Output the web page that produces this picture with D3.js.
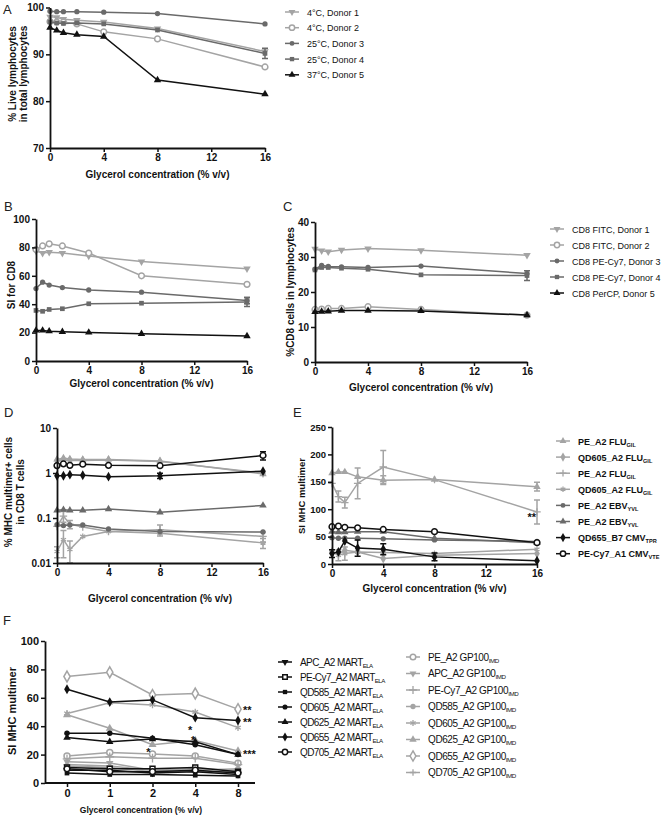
<!DOCTYPE html>
<html><head><meta charset="utf-8">
<script src="https://cdn.jsdelivr.net/npm/d3@7"></script>
<style>
body{margin:0;background:#fff;}
svg{display:block;font-family:"Liberation Sans",Arial,sans-serif;}
</style></head><body>
<svg id="chart" width="664" height="815"></svg>
<script>
// ---------- DATA ----------
const xConc = [0, 0.5, 1, 2, 4, 8, 16];
const xTicks = [0, 4, 8, 12, 16];

// Panel A: % live lymphocytes
const liveDonor1 = [98.0, 97.9, 97.5, 97.3, 96.9, 95.5, 90.6];
const liveDonor2 = [97.0, 96.9, 96.9, 96.5, 94.8, 93.3, 87.3];
const liveDonor3 = [99.2, 99.1, 99.1, 99.1, 99.0, 98.7, 96.5];
const liveDonor4 = [96.9, 96.7, 96.6, 96.7, 96.5, 95.2, 90.2];
const liveDonor5 = [95.7, 95.1, 94.6, 94.2, 93.8, 84.5, 81.5];
const liveErr4 = [0, 0, 0, 0, 0, 0, 1.1];
const liveErr5 = [0, 0, 0.8, 1.6, 0, 0.6, 0];
const legendA = ["4°C, Donor 1", "4°C, Donor 2", "25°C, Donor 3", "25°C, Donor 4", "37°C, Donor 5"];
const yTicksA = [70, 80, 90, 100];

// Panel B: SI for CD8
const siDonor1 = [77.5, 76.0, 76.6, 76.0, 74.0, 70.0, 65.0];
const siDonor2 = [78.5, 81.0, 82.5, 81.0, 76.0, 60.0, 54.0];
const siDonor3 = [51.0, 55.5, 53.5, 51.7, 50.0, 48.5, 42.6];
const siDonor4 = [35.6, 35.0, 36.3, 36.8, 40.3, 40.7, 41.5];
const siDonor5 = [21.5, 21.5, 21.0, 20.6, 20.1, 19.2, 17.6];
const siErr3 = [0, 0, 0, 0, 0, 0, 2.2];
const siErr4 = [0, 0, 0, 0, 0, 0, 3.2];
const yTicksB = [0, 20, 40, 60, 80, 100];

// Panel C: %CD8 cells in lymphocytes
const cd8Donor1 = [32.3, 31.8, 31.5, 32.0, 32.4, 31.9, 30.5];
const cd8Donor2 = [15.0, 15.1, 15.3, 15.3, 15.8, 15.0, 13.4];
const cd8Donor3 = [26.5, 27.6, 27.3, 27.2, 27.0, 27.4, 25.3];
const cd8Donor4 = [26.3, 27.0, 27.0, 26.8, 26.5, 24.9, 24.7];
const cd8Donor5 = [14.3, 14.4, 14.5, 14.7, 14.7, 14.6, 13.4];
const cd8Err4 = [0, 0, 0, 0, 0, 0, 1.4];
const legendC = ["CD8 FITC, Donor 1", "CD8 FITC, Donor 2", "CD8 PE-Cy7, Donor 3", "CD8 PE-Cy7, Donor 4", "CD8 PerCP, Donor 5"];
const yTicksC = [0, 10, 20, 30, 40];

// Panel D: % MHC multimer+ cells in CD8 T cells (log)
const dPeFlu     = [2.0, 2.15, 2.05, 2.0, 2.0, 1.85, 0.95];
const dQd605Flu  = [1.9, 1.95, 1.9, 1.9, 1.95, 1.8, 1.0];
const dPeFlu2    = [0.065, 0.11, 0.073, 0.063, 0.05, 0.055, 0.039];
const dQd605Flu2 = [0.018, 0.033, 0.02, 0.039, 0.05, 0.046, 0.028];
const dPeEbv     = [0.071, 0.068, 0.070, 0.070, 0.057, 0.050, 0.049];
const dPeEbv2    = [0.148, 0.153, 0.148, 0.148, 0.158, 0.134, 0.19];
const dQd655Cmv  = [0.87, 0.87, 0.92, 0.89, 0.83, 0.87, 1.1];
const dPeCy7Cmv  = [1.46, 1.6, 1.48, 1.57, 1.48, 1.45, 2.45];
const dErrFlu2   = [0, 0.03, 0.015, 0, 0, 0.015, 0.01];
const dErrQdFlu2 = [0.005, 0.02, 0.011, 0, 0, 0, 0.007];
const dErrQd655  = [0, 0, 0, 0, 0, 0.12, 0];
const dErrPeCy7  = [0, 0, 0, 0, 0, 0, 0.5];
const yTicksD = [0.01, 0.1, 1, 10];

// Panel E: SI MHC multimer
const ePeFlu     = [166, 168, 168, 159, 153, 154, 141];
const eQd605Flu  = [22, 19, 25, 22, 10, 16, 19];
const ePeFlu2    = [147, 123, 112, 147, 177, 154, 95];
const eQd605Flu2 = [22, 16, 19, 22, 21, 19, 27];
const ePeEbv     = [48, 47, 47, 47, 46, 44, 41];
const ePeEbv2    = [59, 58, 58, 59, 59, 47, 39];
const eQd655Cmv  = [19, 22, 42, 29, 27, 13, 6];
const ePeCy7Cmv  = [68, 69, 67, 66, 63, 59, 39];
const eErrFlu    = [0, 0, 0, 0, 8, 0, 8];
const eErrFlu2   = [0, 10, 10, 28, 30, 0, 22];
const eErrQdFlu2 = [0, 10, 12, 0, 0, 0, 0];
const eErrQd655  = [7, 0, 0, 15, 10, 7, 0];
const yTicksE = [0, 50, 100, 150, 200, 250];
const legendE = [
  ["PE_A2 FLU", "GIL"], ["QD605_A2 FLU", "GIL"], ["PE_A2 FLU", "GIL"], ["QD605_A2 FLU", "GIL"],
  ["PE_A2 EBV", "YVL"], ["PE_A2 EBV", "YVL"], ["QD655_B7 CMV", "TPR"], ["PE-Cy7_A1 CMV", "VTE"]
];

// Panel F: SI MHC multimer, categorical concentrations
const fConc = ["0", "1", "2", "4", "8"];
const fApcMart   = [9, 9, 7, 8, 6];
const fPeCy7Mart = [11, 10, 10, 11, 8];
const fQd585Mart = [7, 6, 6, 5.5, 5];
const fQd605Mart = [35, 35, 31.5, 27, 20];
const fQd625Mart = [32, 29, 31, 29, 20];
const fQd655Mart = [66, 57, 58.5, 46, 44];
const fQd705Mart = [10, 8, 8, 9, 7];
const fPeGp      = [19, 21.5, 20.5, 19, 14];
const fApcGp     = [15, 14, 9, 10, 9];
const fPeCy7Gp   = [17, 18.5, 17.5, 17.5, 13];
const fQd585Gp   = [12, 11, 8, 9, 10];
const fQd605Gp   = [49, 56.5, 55, 50, 39];
const fQd625Gp   = [48, 38.5, 27, 30, 22.6];
const fQd655Gp   = [75, 78, 62, 63, 52];
const fQd705Gp   = [13, 12, 9, 8, 8];
const yTicksF = [0, 20, 40, 60, 80, 100];
const legendFMart = ["APC_A2 MART", "PE-Cy7_A2 MART", "QD585_A2 MART", "QD605_A2 MART", "QD625_A2 MART", "QD655_A2 MART", "QD705_A2 MART"];
const legendFGp = ["PE_A2 GP100", "APC_A2 GP100", "PE-Cy7_A2 GP100", "QD585_A2 GP100", "QD605_A2 GP100", "QD625_A2 GP100", "QD655_A2 GP100", "QD705_A2 GP100"];
const xTitle = "Glycerol concentration (% v/v)";

// ---------- DRAWING ----------
const LIGHT = "#a4a4a4", MID = "#6a6a6a", BLACK = "#111111";
const svg = d3.select("#chart");
const FONT = '"Liberation Sans", Arial, sans-serif';

const symTypes = {tri: d3.symbolTriangle, dtri: d3.symbolTriangle, circle: d3.symbolCircle, square: d3.symbolSquare,
  diamond: d3.symbolDiamond, plus: d3.symbolPlus, ast: d3.symbolAsterisk, times: d3.symbolTimes};

function drawMarker(g, x, y, s) {
  const stroked = ["plus", "ast", "times"].includes(s.sym);
  const p = g.append("path").attr("d", d3.symbol().type(symTypes[s.sym]).size(s.size || 24)())
    .attr("transform", `translate(${x},${y})` + (s.sym === "dtri" ? " rotate(180)" : ""));
  if (stroked) p.attr("fill", "none").attr("stroke", s.color).attr("stroke-width", 1.3);
  else if (s.open) p.attr("fill", "#fff").attr("stroke", s.color).attr("stroke-width", 1.5);
  else p.attr("fill", s.color);
}

function drawSeries(g, xs, ys, xv, s, yMin) {
  const pts = s.vals.map((v, i) => [xs(xv[i]), ys(v)]);
  g.append("path").attr("d", d3.line()(pts)).attr("fill", "none").attr("stroke", s.color).attr("stroke-width", 1.5);
  if (s.err) s.err.forEach((e, i) => {
    if (!e) return;
    const v = s.vals[i], x = xs(xv[i]);
    const lo = ys(Math.max(v - e, yMin)), hi = ys(v + e);
    g.append("path").attr("d", `M${x},${lo}V${hi}M${x - 3},${lo}H${x + 3}M${x - 3},${hi}H${x + 3}`)
      .attr("stroke", s.color).attr("stroke-width", 1.5).attr("fill", "none");
  });
  pts.forEach(p => drawMarker(g, p[0], p[1], s));
}

function styleAxis(g, fs) {
  g.attr("font-family", FONT).attr("font-size", fs).attr("font-weight", "bold");
  g.select(".domain").attr("stroke", BLACK).attr("stroke-width", 1.8);
  g.selectAll(".tick line").attr("stroke", BLACK).attr("stroke-width", 1.5);
  g.selectAll(".tick text").attr("fill", BLACK);
}
function yAxis(scale, x, ticks, fs, fmt) {
  const g = svg.append("g").attr("transform", `translate(${x},0)`)
    .call(d3.axisLeft(scale).tickValues(ticks).tickSize(4).tickSizeOuter(0).tickPadding(2).tickFormat(fmt || d3.format("d")));
  styleAxis(g, fs);
  return g;
}
function xAxis(scale, y, ticks, fs) {
  const ax = d3.axisBottom(scale).tickSize(4).tickSizeOuter(0).tickPadding(2);
  if (ticks) ax.tickValues(ticks).tickFormat(d3.format("d"));
  const g = svg.append("g").attr("transform", `translate(0,${y})`).call(ax);
  styleAxis(g, fs);
  return g;
}
function yTitle(lines, x0, cy, fs, lh) {
  lines.forEach((t, i) => svg.append("text").attr("transform", `translate(${x0 + i * lh},${cy}) rotate(-90)`)
    .attr("text-anchor", "middle").attr("font-family", FONT).attr("font-weight", "bold").attr("font-size", fs)
    .attr("fill", BLACK).text(t));
}
function xTitleText(cx, y, fs) {
  svg.append("text").attr("x", cx).attr("y", y).attr("text-anchor", "middle").attr("font-family", FONT)
    .attr("font-weight", "bold").attr("font-size", fs).attr("fill", BLACK).text(xTitle);
}
function panelLetter(t, x, y) {
  svg.append("text").attr("x", x).attr("y", y).attr("font-family", FONT).attr("font-size", 13).attr("fill", "#222").text(t);
}
function legend(items, x, y0, dy, fs, weight, spacing) {
  items.forEach((it, i) => {
    const y = y0 + i * dy;
    const g = svg.append("g");
    g.append("line").attr("x1", x - 7).attr("x2", x + 7).attr("y1", y).attr("y2", y).attr("stroke", it.s.color).attr("stroke-width", 1.5);
    drawMarker(g, x, y, Object.assign({}, it.s, {size: (it.s.size || 24) * 0.85}));
    const t = g.append("text").attr("x", x + 15).attr("y", y + 3.5).attr("font-family", FONT)
      .attr("font-size", fs).attr("font-weight", weight).attr("fill", BLACK).attr("letter-spacing", spacing || 0);
    t.append("tspan").text(it.label);
    if (it.sub) t.append("tspan").attr("font-size", fs * 0.62).attr("dy", 2).text(it.sub);
  });
}

// ---- Panel A ----
{
  const xs = d3.scaleLinear().domain([0, 16]).range([50, 265]);
  const ys = d3.scaleLinear().domain([70, 100]).range([148, 7.5]);
  const g = svg.append("g");
  const series = [
    {vals: liveDonor1, color: LIGHT, sym: "dtri"},
    {vals: liveDonor2, color: LIGHT, sym: "circle", open: true, size: 26},
    {vals: liveDonor3, color: MID, sym: "circle", size: 22},
    {vals: liveDonor4, color: MID, sym: "square", size: 22, err: liveErr4},
    {vals: liveDonor5, color: BLACK, sym: "tri"}
  ];
  series.forEach(s => drawSeries(g, xs, ys, xConc, s, 70));
  yAxis(ys, 50, yTicksA, 10);
  xAxis(xs, 148, xTicks, 10);
  yTitle(["% Live lymphocytes", "in total lymphocytes"], 16, 74, 10, 11);
  xTitleText(157.5, 178, 10);
  panelLetter("A", 3, 14);
  legend(series.map((s, i) => ({s, label: legendA[i]})), 292, 12, 15.7, 9, "normal");
}

// ---- Panel B ----
{
  const xs = d3.scaleLinear().domain([0, 16]).range([36, 247]);
  const ys = d3.scaleLinear().domain([0, 100]).range([361, 219]);
  const g = svg.append("g");
  const series = [
    {vals: siDonor1, color: LIGHT, sym: "dtri"},
    {vals: siDonor2, color: LIGHT, sym: "circle", open: true, size: 26},
    {vals: siDonor3, color: MID, sym: "circle", size: 22, err: siErr3},
    {vals: siDonor4, color: MID, sym: "square", size: 22, err: siErr4},
    {vals: siDonor5, color: BLACK, sym: "tri"}
  ];
  series.forEach(s => drawSeries(g, xs, ys, xConc, s, 0));
  yAxis(ys, 36, yTicksB, 10);
  xAxis(xs, 361, xTicks, 10);
  yTitle(["SI for CD8"], 15, 285, 10, 0);
  xTitleText(141.5, 387, 10);
  panelLetter("B", 4, 211);
}

// ---- Panel C ----
{
  const xs = d3.scaleLinear().domain([0, 16]).range([315, 527]);
  const ys = d3.scaleLinear().domain([0, 40]).range([362, 222]);
  const g = svg.append("g");
  const series = [
    {vals: cd8Donor1, color: LIGHT, sym: "dtri"},
    {vals: cd8Donor2, color: LIGHT, sym: "circle", open: true, size: 26},
    {vals: cd8Donor3, color: MID, sym: "circle", size: 22},
    {vals: cd8Donor4, color: MID, sym: "square", size: 22, err: cd8Err4},
    {vals: cd8Donor5, color: BLACK, sym: "tri"}
  ];
  series.forEach(s => drawSeries(g, xs, ys, xConc, s, 0));
  yAxis(ys, 315, yTicksC, 10);
  xAxis(xs, 362, xTicks, 10);
  yTitle(["%CD8 cells in lymphocytes"], 294, 292, 10, 0);
  xTitleText(421, 391, 10);
  panelLetter("C", 283, 211);
  legend(series.map((s, i) => ({s, label: legendC[i]})), 557, 229, 16, 9, "normal");
}

// ---- Panel D ----
const seriesDE = (vals, errs) => [
  {vals: vals[0], color: LIGHT, sym: "tri", err: errs[0]},
  {vals: vals[1], color: LIGHT, sym: "diamond", size: 28},
  {vals: vals[2], color: LIGHT, sym: "plus", size: 20, err: errs[2]},
  {vals: vals[3], color: LIGHT, sym: "ast", size: 24, err: errs[3]},
  {vals: vals[4], color: MID, sym: "circle", size: 22},
  {vals: vals[5], color: MID, sym: "tri"},
  {vals: vals[6], color: BLACK, sym: "diamond", size: 28, err: errs[6]},
  {vals: vals[7], color: BLACK, sym: "circle", open: true, size: 26, err: errs[7]}
];
{
  const xs = d3.scaleLinear().domain([0, 16]).range([57, 263]);
  const ys = d3.scaleLog().domain([0.01, 10]).range([563, 428]);
  const g = svg.append("g");
  const series = seriesDE([dPeFlu, dQd605Flu, dPeFlu2, dQd605Flu2, dPeEbv, dPeEbv2, dQd655Cmv, dPeCy7Cmv],
    [null, null, dErrFlu2, dErrQdFlu2, null, null, dErrQd655, dErrPeCy7]);
  series.forEach(s => drawSeries(g, xs, ys, xConc, s, 0.0101));
  yAxis(ys, 57, yTicksD, 10, d => String(d));
  xAxis(xs, 563, xTicks, 10);
  yTitle(["% MHC multimer+ cells", "in CD8 T cells"], 12, 492, 10, 11.5);
  xTitleText(160, 602, 10);
  panelLetter("D", 4, 417);
}

// ---- Panel E ----
{
  const xs = d3.scaleLinear().domain([0, 16]).range([332, 537]);
  const ys = d3.scaleLinear().domain([0, 250]).range([564, 427]);
  const g = svg.append("g");
  const series = seriesDE([ePeFlu, eQd605Flu, ePeFlu2, eQd605Flu2, ePeEbv, ePeEbv2, eQd655Cmv, ePeCy7Cmv],
    [eErrFlu, null, eErrFlu2, eErrQdFlu2, null, null, eErrQd655, null]);
  series.forEach(s => drawSeries(g, xs, ys, xConc, s, 0));
  yAxis(ys, 332, yTicksE, 9.5);
  xAxis(xs, 564, xTicks, 10);
  yTitle(["SI MHC multimer"], 305, 496, 9.5, 0);
  xTitleText(434.5, 592, 10);
  panelLetter("E", 293, 417);
  svg.append("text").attr("x", xs(16) - 1).attr("y", ys(95) + 9).attr("text-anchor", "end")
    .attr("font-family", FONT).attr("font-weight", "bold").attr("font-size", 11).attr("fill", BLACK).text("**");
  legend(series.map((s, i) => ({s, label: legendE[i][0], sub: legendE[i][1]})), 563, 441, 16.1, 9, "bold");
}

// ---- Panel F ----
{
  const xs = d3.scalePoint().domain(fConc).range([67, 238]);
  const ys = d3.scaleLinear().domain([0, 100]).range([783, 641]);
  const g = svg.append("g");
  const mart = [
    {vals: fApcMart, color: BLACK, sym: "dtri"},
    {vals: fPeCy7Mart, color: BLACK, sym: "square", open: true, size: 24},
    {vals: fQd585Mart, color: BLACK, sym: "square", size: 22},
    {vals: fQd605Mart, color: BLACK, sym: "circle", size: 24},
    {vals: fQd625Mart, color: BLACK, sym: "tri"},
    {vals: fQd655Mart, color: BLACK, sym: "diamond", size: 28},
    {vals: fQd705Mart, color: BLACK, sym: "circle", open: true, size: 26}
  ];
  const gp = [
    {vals: fPeGp, color: LIGHT, sym: "circle", open: true, size: 28},
    {vals: fApcGp, color: LIGHT, sym: "dtri"},
    {vals: fPeCy7Gp, color: LIGHT, sym: "plus", size: 26},
    {vals: fQd585Gp, color: LIGHT, sym: "circle", size: 26},
    {vals: fQd605Gp, color: LIGHT, sym: "ast", size: 30},
    {vals: fQd625Gp, color: LIGHT, sym: "tri", size: 28},
    {vals: fQd655Gp, color: LIGHT, sym: "diamond", size: 34, open: true},
    {vals: fQd705Gp, color: LIGHT, sym: "plus", size: 18}
  ];
  gp.forEach(s => drawSeries(g, xs, ys, fConc, s, 0));
  mart.forEach(s => drawSeries(g, xs, ys, fConc, s, 0));
  yAxis(ys, 45, yTicksF, 11);
  const xa = xAxis(xs, 783, null, 11);
  xa.select(".domain").remove();
  svg.append("line").attr("x1", 45).attr("x2", 255).attr("y1", 783).attr("y2", 783).attr("stroke", BLACK).attr("stroke-width", 1.8);
  yTitle(["SI MHC multimer"], 16, 711, 11, 0);
  xTitleText(141, 813, 8.5);
  panelLetter("F", 3, 625);
  const star = (t, x, y, anchor) => svg.append("text").attr("x", x).attr("y", y).attr("text-anchor", anchor || "start")
    .attr("font-family", FONT).attr("font-weight", "bold").attr("font-size", 11).attr("fill", BLACK).text(t);
  star("**", xs("8") + 5, ys(52) + 5);
  star("**", xs("8") + 5, ys(44) + 5);
  star("***", xs("8") + 5, ys(21) + 5);
  star("*", xs("4") - 3, ys(40) + 8, "end");
  star("*", xs("4") - 2, ys(33) + 8, "middle");
  star("*", xs("2") - 4, ys(25) + 8, "middle");
  legend(mart.map((s, i) => ({s, label: legendFMart[i], sub: "ELA"})), 285, 662, 15, 10, "normal", -0.6);
  legend(gp.map((s, i) => ({s, label: legendFGp[i], sub: "IMD"})), 413, 657, 16.5, 10, "normal", -0.4);
}
</script>
</body></html>
